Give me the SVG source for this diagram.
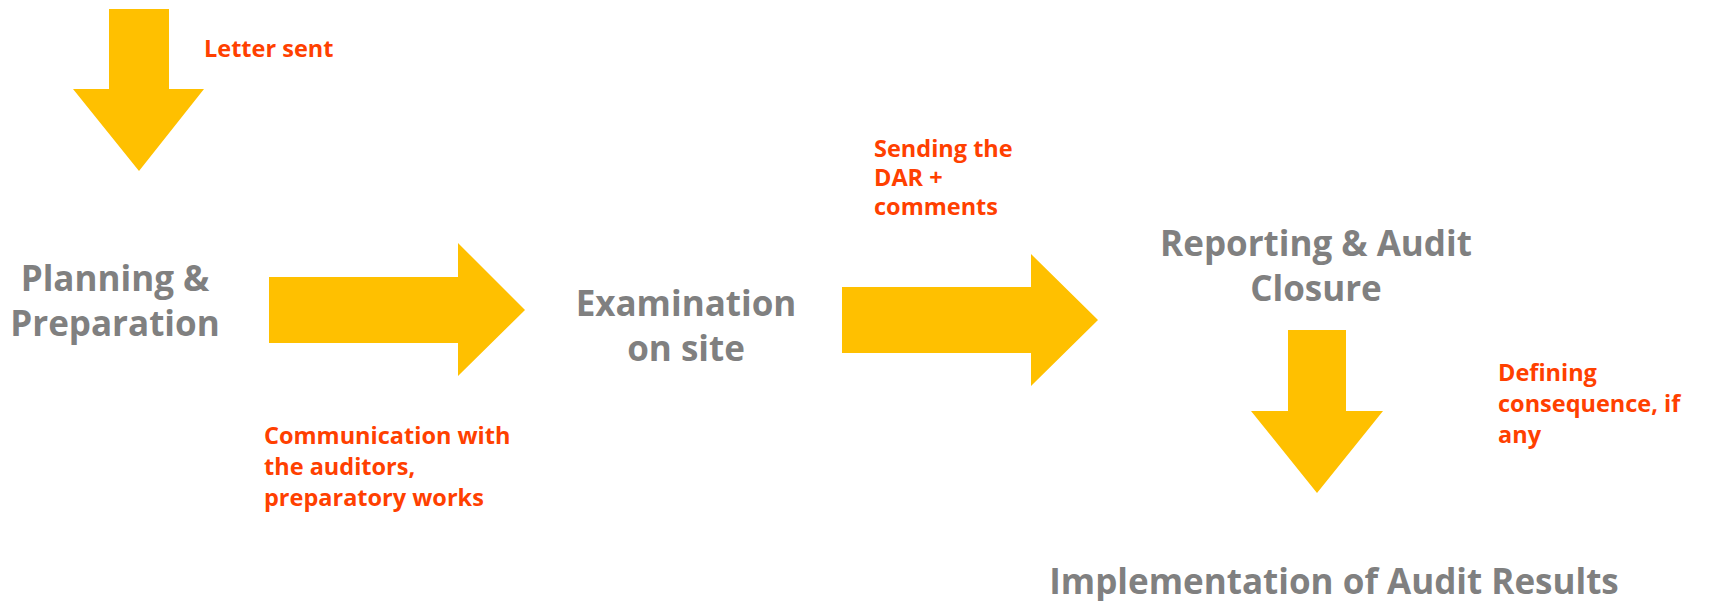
<svg xmlns="http://www.w3.org/2000/svg" width="1712" height="601" viewBox="0 0 1712 601">
  <style>
    .arrow { fill: #FFC000; }
    text { font-family: "Open Sans", "Liberation Sans", sans-serif; font-weight: bold; font-variant-ligatures: none; }
    .stage { font-size: 35px; fill: #808080; text-anchor: middle; }
    .note { font-size: 23.5px; fill: #FF4000; }
  </style>
  <rect width="1712" height="601" fill="#FFFFFF"/>

  <!-- block arrows between the audit stages -->
  <g id="connectors">
    <polygon id="arrow-letter" class="arrow" points="109,9 169,9 169,89 204,89 139,171 73,89 109,89"/>
    <polygon id="arrow-exam" class="arrow" points="269,277 458,277 458,243 525,310 458,376 458,343 269,343"/>
    <polygon id="arrow-report" class="arrow" points="842,287 1031,287 1031,254 1098,320 1031,386 1031,353 842,353"/>
    <polygon id="arrow-implement" class="arrow" points="1288,330 1346,330 1346,411 1383,411 1317,493 1251,411 1288,411"/>
  </g>

  <!-- stage nodes -->
  <g id="planning">
    <text class="stage" x="115" y="291">Planning &amp;</text>
    <text class="stage" x="115" y="336">Preparation</text>
  </g>
  <g id="examination">
    <text class="stage" x="686" y="316">Examination</text>
    <text class="stage" x="686" y="361">on site</text>
  </g>
  <g id="reporting">
    <text class="stage" x="1316" y="256">Reporting &amp; Audit</text>
    <text class="stage" x="1316" y="301">Closure</text>
  </g>
  <g id="implementation">
    <text class="stage" x="1334" y="594">Implementation of Audit Results</text>
  </g>

  <!-- step annotations -->
  <g id="note-letter">
    <text class="note" x="204" y="57">Letter sent</text>
  </g>
  <g id="note-communication">
    <text class="note" x="264" y="444">Communication with</text>
    <text class="note" x="264" y="475">the auditors,</text>
    <text class="note" x="264" y="506">preparatory works</text>
  </g>
  <g id="note-dar">
    <text class="note" x="874" y="157">Sending the</text>
    <text class="note" x="874" y="186">DAR +</text>
    <text class="note" x="874" y="215">comments</text>
  </g>
  <g id="note-consequence">
    <text class="note" x="1498" y="381">Defining</text>
    <text class="note" x="1498" y="412">consequence, if</text>
    <text class="note" x="1498" y="443">any</text>
  </g>
</svg>
